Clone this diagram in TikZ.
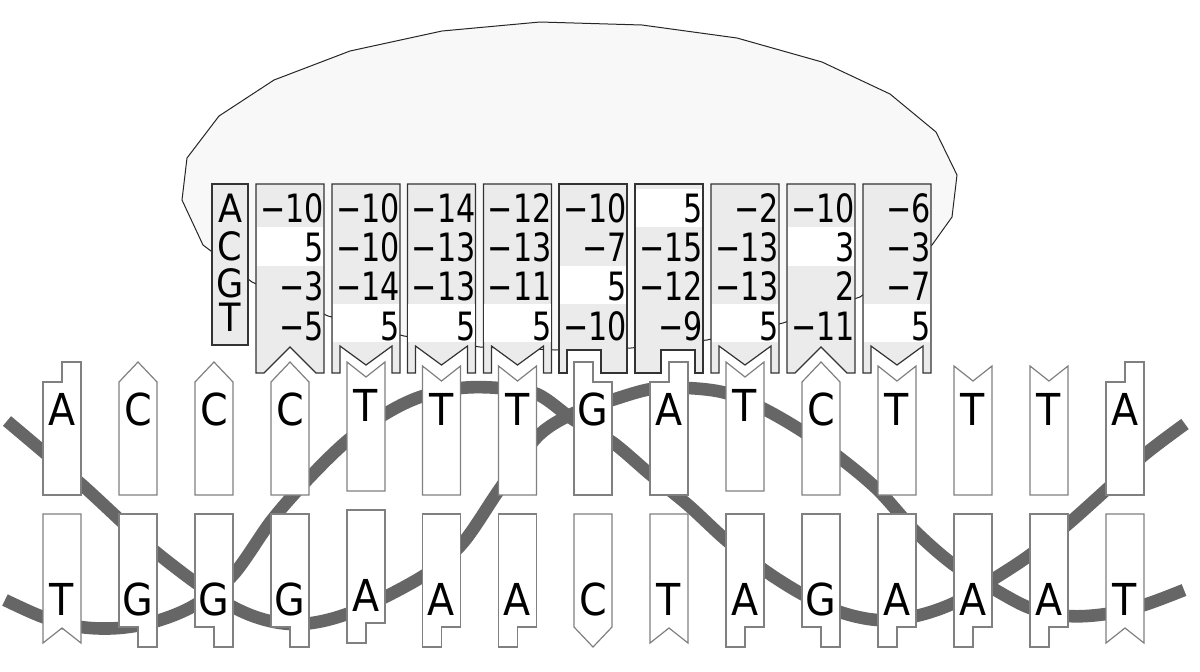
\documentclass[tikz,border=0pt]{standalone}
\usepackage{fontspec}
\setmainfont{DejaVu Sans Condensed}
\newfontfamily\numfont[FakeStretch=0.86]{DejaVu Sans Condensed}
\usepackage{xcolor}
\usepackage{tikz}
\usetikzlibrary{positioning}

\definecolor{cellgray}{HTML}{EBEBEB}
\definecolor{blobfill}{HTML}{F8F8F8}
\definecolor{strandgray}{HTML}{666666}
\definecolor{edgegray}{HTML}{808080}
\definecolor{coledge}{HTML}{333333}

\begin{document}
\begin{tikzpicture}[x=0.5pt, y=-0.5pt,
            basebox/.style={draw=edgegray, fill=white, line width=0.6pt},
            colbox/.style={draw=coledge, fill=cellgray, line width=0.6pt},
            blob/.style={draw=black!85, fill=blobfill, line width=0.5pt},
            strand/.style={draw=strandgray, line width=6.3pt},
            letter/.style={anchor=base, inner sep=0pt, font=\fontsize{22}{22}\selectfont},
            rowlabel/.style={anchor=base, inner sep=0pt, font=\fontsize{19.5}{20}\selectfont},
            num/.style={anchor=base east, inner sep=0pt, font=\numfont\fontsize{19.5}{20}\selectfont},
            pics/baseA/.style={code={\draw[basebox] (-19,113) -- (-19,0) -- (0,0) -- (0,-20) -- (19,-20) -- (19,113) -- cycle;}},
            pics/baseG/.style={code={\draw[basebox] (-19,113) -- (-19,-20) -- (0,-20) -- (0,0) -- (19,0) -- (19,113) -- cycle;}},
            pics/baseC/.style={code={\draw[basebox] (-19,113) -- (-19,0) -- (0,-20) -- (19,0) -- (19,113) -- cycle;}},
            pics/baseT/.style={code={\draw[basebox] (-19,113) -- (-19,-16) -- (0,-1) -- (19,-16) -- (19,113) -- cycle;}},
            pics/colC/.style={code={
                \draw[colbox] (-34,0) -- (-26,0) -- (0,-26) -- (26,0) -- (34,0) -- (34,-189) -- (-34,-189) -- cycle;
                \fill[white] (-33.3,-222.3+38.3*#1) rectangle (33.3,-184+38.3*#1);}},
            pics/colT/.style={code={
                \draw[colbox] (-34,0) -- (-26,0) -- (-26,-27) -- (0,-8) -- (26,-27) -- (26,0) -- (34,0) -- (34,-189) -- (-34,-189) -- cycle;
                \fill[white] (-33.3,-222.3+38.3*#1) rectangle (33.3,-184+38.3*#1);}},
            pics/colG/.style={code={
                \draw[colbox] (-34,0) -- (-26,0) -- (-26,-23) -- (8,-23) -- (8,0) -- (34,0) -- (34,-189) -- (-34,-189) -- cycle;
                \fill[white] (-33.3,-222.3+38.3*#1) rectangle (33.3,-184+38.3*#1);}},
            pics/colA/.style={code={
                \draw[colbox] (-34,0) -- (-8,0) -- (-8,-23) -- (26,-23) -- (26,0) -- (34,0) -- (34,-189) -- (-34,-189) -- cycle;
                \fill[white] (-33.3,-222.3+38.3*#1) rectangle (33.3,-184+38.3*#1);}}]

            \useasboundingbox[fill=white] (0,0) rectangle (1200,671);

            \draw[blob] (182,200) -- (187,158) -- (219,116) -- (274,80) -- (350,51) -- (442,31) -- (540,22) -- (642,25) -- (737,38) -- (822,62) -- (890,94) -- (936,132) -- (957,175) -- (952,217) -- (932,245) -- (860,297) -- (783,323) -- (707,340) -- (631,348) -- (555,350) -- (480,347) -- (404,336) -- (328,316) -- (252,282) -- (203,245) -- cycle;

            \draw[strand] plot[smooth, tension=0.55] coordinates {(7,421) (81,484) (157,553) (233,607) (290,624) (347,614) (420,578) (461,545) (499,490) (537,437) (574,413) (612,400) (651,389) (688,388) (726,393) (764,409) (802,431) (840,458) (878,490) (916,532) (954,565) (992,588) (1030,608) (1068,616) (1106,614) (1144,605) (1184,590)};
            \draw[strand] plot[smooth, tension=0.55] coordinates {(5,600) (43,617) (81,627) (119,628) (157,621) (195,605) (233,575) (272,520) (309,478) (347,441) (385,414) (420,397) (461,388) (499,388) (537,394) (574,420) (612,442) (651,475) (688,505) (726,540) (764,570) (802,594) (840,612) (878,620) (916,616) (954,603) (992,580) (1030,555) (1068,524) (1106,490) (1144,455) (1185,424)};

            \pic at (62,382) {baseA};     \node[letter] (top1) at (62,425) {A};
            \pic at (138,382) {baseC};    \node[letter] (top2) at (138,425) {C};
            \pic at (214,382) {baseC};    \node[letter] (top3) at (214,425) {C};
            \pic at (290,382) {baseC};    \node[letter] (top4) at (290,425) {C};
            \pic at (366,378) {baseT};    \node[letter] (top5) at (366,421) {T};
            \pic at (441.5,382) {baseT};  \node[letter] (top6) at (441.5,425) {T};
            \pic at (517.5,382) {baseT};  \node[letter] (top7) at (517.5,425) {T};
            \pic at (593,382) {baseG};    \node[letter] (top8) at (593,425) {G};
            \pic at (669,382) {baseA};    \node[letter] (top9) at (669,425) {A};
            \pic at (745,378) {baseT};    \node[letter] (top10) at (745,421) {T};
            \pic at (821,382) {baseC};    \node[letter] (top11) at (821,425) {C};
            \pic at (897,382) {baseT};    \node[letter] (top12) at (897,425) {T};
            \pic at (973,382) {baseT};    \node[letter] (top13) at (973,425) {T};
            \pic at (1049,382) {baseT};   \node[letter] (top14) at (1049,425) {T};
            \pic at (1125,382) {baseA};   \node[letter] (top15) at (1125,425) {A};

            \pic[rotate=180] at (62,627) {baseT};     \node[letter] (bot1) at (62,615) {T};
            \pic[rotate=180] at (138,627) {baseG};    \node[letter] (bot2) at (138,615) {G};
            \pic[rotate=180] at (214,627) {baseG};    \node[letter] (bot3) at (214,615) {G};
            \pic[rotate=180] at (290,627) {baseG};    \node[letter] (bot4) at (290,615) {G};
            \pic[rotate=180] at (366,623) {baseA};    \node[letter] (bot5) at (366,611) {A};
            \pic[rotate=180] at (441.5,627) {baseA};  \node[letter] (bot6) at (441.5,615) {A};
            \pic[rotate=180] at (517.5,627) {baseA};  \node[letter] (bot7) at (517.5,615) {A};
            \pic[rotate=180] at (593,627) {baseC};    \node[letter] (bot8) at (593,615) {C};
            \pic[rotate=180] at (669,627) {baseT};    \node[letter] (bot9) at (669,615) {T};
            \pic[rotate=180] at (745,627) {baseA};    \node[letter] (bot10) at (745,615) {A};
            \pic[rotate=180] at (821,627) {baseG};    \node[letter] (bot11) at (821,615) {G};
            \pic[rotate=180] at (897,627) {baseA};    \node[letter] (bot12) at (897,615) {A};
            \pic[rotate=180] at (973,627) {baseA};    \node[letter] (bot13) at (973,615) {A};
            \pic[rotate=180] at (1049,627) {baseA};   \node[letter] (bot14) at (1049,615) {A};
            \pic[rotate=180] at (1125,627) {baseT};   \node[letter] (bot15) at (1125,615) {T};

            \draw[colbox] (212,184) rectangle (248,345);
            \node[rowlabel] (rowA) at (230,222) {A};
            \node[rowlabel] (rowC) at (230,260) {C};
            \node[rowlabel] (rowG) at (230,297) {G};
            \node[rowlabel] (rowT) at (230,331) {T};

            \pic at (290,373) {colC=2};
            \pic at (366,373) {colT=4};
            \pic at (441.5,373) {colT=4};
            \pic at (517.5,373) {colT=4};
            \pic at (593,373) {colG=3};
            \pic at (669,373) {colA=1};
            \pic at (745,373) {colT=4};
            \pic at (821,373) {colC=2};
            \pic at (897,373) {colT=4};

            \node[num] (col1a) at (324.5,222) {−10};
            \node[num] (col1c) at (324.5,261.5) {5};
            \node[num] (col1g) at (324.5,300.5) {−3};
            \node[num] (col1t) at (324.5,340) {−5};
            \node[num] (col2a) at (400.5,222) {−10};
            \node[num] (col2c) at (400.5,261.5) {−10};
            \node[num] (col2g) at (400.5,300.5) {−14};
            \node[num] (col2t) at (400.5,340) {5};
            \node[num] (col3a) at (476,222) {−14};
            \node[num] (col3c) at (476,261.5) {−13};
            \node[num] (col3g) at (476,300.5) {−13};
            \node[num] (col3t) at (476,340) {5};
            \node[num] (col4a) at (552,222) {−12};
            \node[num] (col4c) at (552,261.5) {−13};
            \node[num] (col4g) at (552,300.5) {−11};
            \node[num] (col4t) at (552,340) {5};
            \node[num] (col5a) at (627.5,222) {−10};
            \node[num] (col5c) at (627.5,261.5) {−7};
            \node[num] (col5g) at (627.5,300.5) {5};
            \node[num] (col5t) at (627.5,340) {−10};
            \node[num] (col6a) at (703.5,222) {5};
            \node[num] (col6c) at (703.5,261.5) {−15};
            \node[num] (col6g) at (703.5,300.5) {−12};
            \node[num] (col6t) at (703.5,340) {−9};
            \node[num] (col7a) at (779.5,222) {−2};
            \node[num] (col7c) at (779.5,261.5) {−13};
            \node[num] (col7g) at (779.5,300.5) {−13};
            \node[num] (col7t) at (779.5,340) {5};
            \node[num] (col8a) at (855.5,222) {−10};
            \node[num] (col8c) at (855.5,261.5) {3};
            \node[num] (col8g) at (855.5,300.5) {2};
            \node[num] (col8t) at (855.5,340) {−11};
            \node[num] (col9a) at (931.5,222) {−6};
            \node[num] (col9c) at (931.5,261.5) {−3};
            \node[num] (col9g) at (931.5,300.5) {−7};
            \node[num] (col9t) at (931.5,340) {5};
        \end{tikzpicture}
\end{document}
